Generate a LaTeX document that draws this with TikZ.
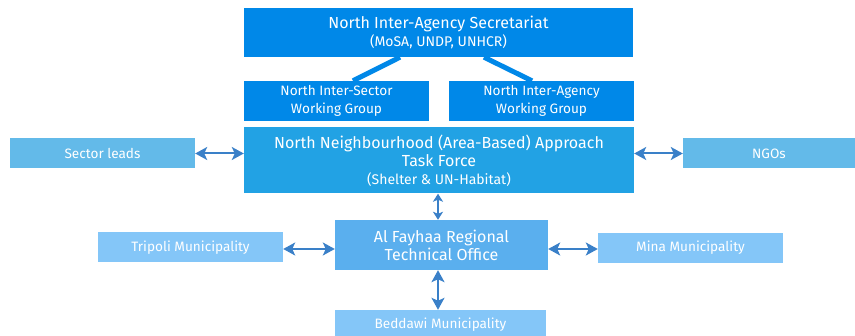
\documentclass[tikz,border=0pt]{standalone}
\usepackage{fontspec}
\setmainfont{Fira Sans}
\usetikzlibrary{arrows.meta}
\definecolor{secblue}{RGB}{0,136,232}
\definecolor{taskblue}{RGB}{34,162,228}
\definecolor{partblue}{RGB}{99,186,233}
\definecolor{officeblue}{RGB}{90,175,238}
\definecolor{muniblue}{RGB}{132,198,248}
\definecolor{linkblue}{RGB}{58,128,200}
\newcommand{\headsize}{\fontsize{16}{18}\selectfont}
\newcommand{\subsize}{\fontsize{14}{18}\selectfont}
\newcommand{\boxsize}{\fontsize{13.6}{18}\selectfont}
\begin{document}
\begin{tikzpicture}[x=1pt, y=-1pt,
    >={Stealth[length=12pt, width=13pt, inset=3pt]},
    box/.style={fill=#1, text=white, inner sep=0pt, align=center},
    link/.style={<->, draw=linkblue, line width=2pt},
    shortlink/.style={{Stealth[length=8pt, width=10pt, inset=2pt]}-{Stealth[length=8pt, width=10pt, inset=2pt]},
      draw=linkblue, line width=2pt},
    branch/.style={draw=secblue, line width=5pt}]

  \useasboundingbox (0,0) rectangle (855,336);

  % secretariat and working groups
  \node[box=secblue, font=\headsize, minimum width=389pt, minimum height=49pt] (sec) at (438.5, 32.5)
    {North Inter-Agency Secretariat\\\subsize(MoSA, UNDP, UNHCR)};
  \node[box=secblue, font=\boxsize, minimum width=185pt, minimum height=40pt] (iswg) at (336.5, 101)
    {North Inter-Sector\\Working Group};
  \node[box=secblue, font=\boxsize, minimum width=185pt, minimum height=40pt] (iawg) at (541.5, 101)
    {North Inter-Agency\\Working Group};

  \draw[branch] ([xshift=-38.5pt]sec.south) -- ([xshift=16.5pt]iswg.north);
  \draw[branch] ([xshift=45.5pt]sec.south) -- ([xshift=-9.5pt]iawg.north);

  % task force with partners
  \node[box=taskblue, font=\headsize, minimum width=390pt, minimum height=66pt] (tf) at (439, 160.5)
    {North Neighbourhood (Area-Based) Approach\\Task Force\\\subsize(Shelter \& UN-Habitat)};
  \node[box=partblue, font=\boxsize, minimum width=185pt, minimum height=30pt] (leads) at (102.5, 153.5)
    {Sector leads};
  \node[box=partblue, font=\boxsize, minimum width=172pt, minimum height=30pt] (ngos) at (769, 153.5)
    {NGOs};

  \draw[link] (leads.east) -- (leads.east -| tf.west);
  \draw[link] (tf.east |- ngos.west) -- (ngos.west);

  % regional office and municipalities
  \node[box=officeblue, font=\headsize, minimum width=213pt, minimum height=50pt] (office) at (441.5, 245)
    {Al Fayhaa Regional\\Technical Office};
  \node[box=muniblue, font=\boxsize, minimum width=185pt, minimum height=30pt] (tripoli) at (190.5, 247.5)
    {Tripoli Municipality};
  \node[box=muniblue, font=\boxsize, minimum width=185pt, minimum height=30pt] (mina) at (690.5, 248)
    {Mina Municipality};
  \node[box=muniblue, font=\boxsize, minimum width=211pt, minimum height=30pt] (beddawi) at (440.5, 325)
    {Beddawi Municipality};

  \draw[shortlink] ([xshift=-1pt]tf.south) -- ([xshift=-1pt]tf.south |- office.north);
  \draw[link] ([xshift=-1pt]tf.south |- office.south) -- ([xshift=-1pt]tf.south |- beddawi.north);
  \draw[link] ([yshift=-1.5pt]tripoli.east) -- ([yshift=-1.5pt]tripoli.east -| office.west);
  \draw[link] ([yshift=-1pt]office.east |- mina.west) -- ([yshift=-1pt]mina.west);
\end{tikzpicture}
\end{document}
